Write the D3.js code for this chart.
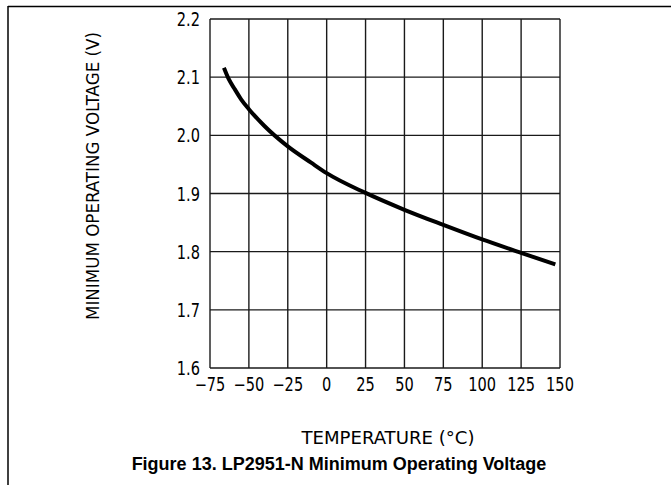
<!DOCTYPE html>
<html><head><meta charset="utf-8">
<script src="https://cdn.jsdelivr.net/npm/d3@7"></script>
<style>
html,body{margin:0;padding:0;background:#fff;}
svg{display:block;}
</style></head>
<body>
<script>
const temperature = [-66, -63, -59, -55, -50, -40, -25, -10, 0, 25, 50, 75, 100, 125, 147];
const voltage     = [2.116, 2.097, 2.079, 2.062, 2.045, 2.016, 1.981, 1.953, 1.935, 1.901, 1.872, 1.846, 1.821, 1.798, 1.778];
const xTicks = [-75, -50, -25, 0, 25, 50, 75, 100, 125, 150];
const yTicks = [1.6, 1.7, 1.8, 1.9, 2.0, 2.1, 2.2];
const xTitle = "TEMPERATURE (°C)";
const yTitle = "MINIMUM OPERATING VOLTAGE (V)";
const caption = "Figure 13. LP2951-N Minimum Operating Voltage";

const W = 671, H = 485;
const svg = d3.select("body").append("svg").attr("width", W).attr("height", H);

// frame lines (top & left)
svg.append("line").attr("x1", 8).attr("y1", 6.5).attr("x2", W).attr("y2", 6.5).attr("stroke", "#000").attr("stroke-width", 1.5);
svg.append("line").attr("x1", 8).attr("y1", 6).attr("x2", 8).attr("y2", H).attr("stroke", "#000").attr("stroke-width", 1.5);

const x = d3.scaleLinear().domain([-75, 150]).range([210, 560]);
const y = d3.scaleLinear().domain([1.6, 2.2]).range([368, 19]);

const grid = svg.append("g").attr("stroke", "#1a1a1a").attr("stroke-width", 1.4);
grid.selectAll(".vx").data(xTicks).join("line")
  .attr("x1", d => x(d)).attr("x2", d => x(d)).attr("y1", y(2.2)).attr("y2", y(1.6));
grid.selectAll(".hy").data(yTicks).join("line")
  .attr("x1", x(-75)).attr("x2", x(150)).attr("y1", d => y(d)).attr("y2", d => y(d));

const tickFont = "'DejaVu Sans Condensed', 'DejaVu Sans', sans-serif";
const fmtX = d => (d < 0 ? "\u2212" + Math.abs(d) : String(d));
svg.append("g").selectAll("text").data(xTicks).join("text")
  .attr("transform", d => `translate(${x(d)},390.5) scale(0.9,1.05)`)
  .attr("text-anchor", "middle")
  .attr("font-family", tickFont).attr("font-size", 18).attr("fill", "#000")
  .text(fmtX);
svg.append("g").selectAll("text").data(yTicks).join("text")
  .attr("transform", d => `translate(200,${y(d) + 7}) scale(0.9,1.05)`)
  .attr("text-anchor", "end")
  .attr("font-family", tickFont).attr("font-size", 18).attr("fill", "#000")
  .text(d => d.toFixed(1));

svg.append("text").attr("x", 388).attr("y", 444).attr("text-anchor", "middle")
  .attr("font-family", tickFont).attr("font-size", 17).attr("fill", "#000")
  .attr("textLength", 173).attr("lengthAdjust", "spacingAndGlyphs")
  .text(xTitle);

svg.append("text")
  .attr("transform", "translate(99,176) rotate(-90)")
  .attr("text-anchor", "middle")
  .attr("font-family", tickFont).attr("font-size", 17).attr("fill", "#000")
  .attr("textLength", 288).attr("lengthAdjust", "spacingAndGlyphs")
  .text(yTitle);

svg.append("text").attr("x", 339).attr("y", 470).attr("text-anchor", "middle")
  .attr("font-family", "'Liberation Sans', Arial, sans-serif").attr("font-weight", "bold")
  .attr("font-size", 18).attr("fill", "#000")
  .text(caption);

const pts = temperature.map((t, i) => [t, voltage[i]]);
const line = d3.line().x(d => x(d[0])).y(d => y(d[1])).curve(d3.curveMonotoneX);
svg.append("path").datum(pts).attr("d", line)
  .attr("fill", "none").attr("stroke", "#000").attr("stroke-width", 4).attr("stroke-linecap", "butt");
</script>
</body></html>
